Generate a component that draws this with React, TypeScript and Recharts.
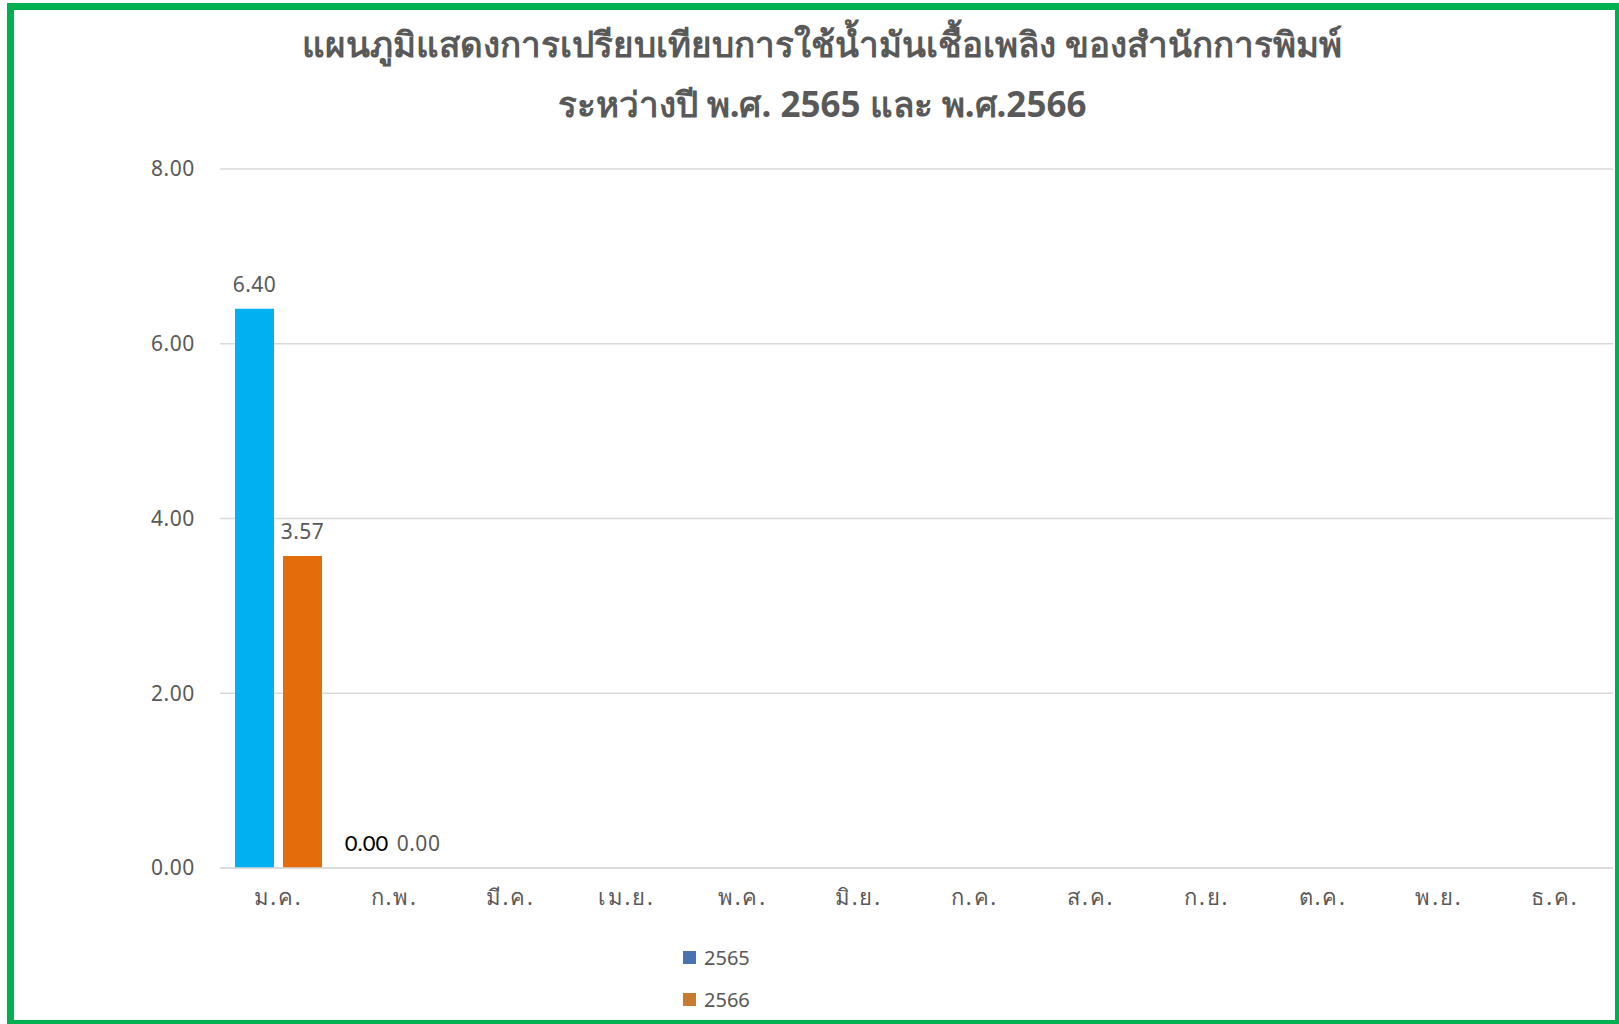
import React from 'react';
import { BarChart, Bar, XAxis, YAxis, CartesianGrid, LabelList, Legend } from 'recharts';

const months = ['ม.ค.', 'ก.พ.', 'มี.ค.', 'เม.ย.', 'พ.ค.', 'มิ.ย.', 'ก.ค.', 'ส.ค.', 'ก.ย.', 'ต.ค.', 'พ.ย.', 'ธ.ค.'];
const values2565: (number | null)[] = [6.4, 0.0, null, null, null, null, null, null, null, null, null, null];
const values2566: (number | null)[] = [3.57, 0.0, null, null, null, null, null, null, null, null, null, null];
const seriesNames = ['2565', '2566'];
const seriesKeys = ['y2565', 'y2566'];
const barColors = ['#00B0F0', '#E46C0A'];
const legendColors = ['#4A72B0', '#C87A30'];
const yTicks = [0, 2, 4, 6, 8];
const titleLines = ['แผนภูมิแสดงการเปรียบเทียบการใช้น้ำมันเชื้อเพลิง ของสำนักการพิมพ์', 'ระหว่างปี พ.ศ. 2565 และ พ.ศ.2566'];

const data = months.map((m, i) => ({ month: m, y2565: values2565[i], y2566: values2566[i] }));

const TEXT_GRAY = '#595959';
const THAI_FONT = "Tahoma, 'Noto Sans', 'DejaVu Sans', sans-serif";
const NUM_FONT = "'Noto Sans', 'Open Sans', sans-serif";

const makeLabel = (seriesIndex: number) => (props: any) => {
  const { x, y, width, value, index } = props;
  if (value === null || value === undefined) return null;
  const special = seriesIndex === 0 && index === 1;
  return (
    <text
      x={Number(x) + Number(width) / 2 - (special ? 4 : 0)}
      y={Number(y) - 17}
      textAnchor="middle"
      fill={special ? '#000000' : TEXT_GRAY}
      fontFamily={special ? "Lato, 'Open Sans', sans-serif" : NUM_FONT}
      fontWeight={400}
      fontSize={special ? 22 : 21}
      letterSpacing={special ? 0 : 0.5}
    >
      {Number(value).toFixed(2)}
    </text>
  );
};

const LegendContent = () => (
  <div style={{ fontFamily: NUM_FONT, fontSize: 20, color: TEXT_GRAY }}>
    {seriesNames.map((n, i) => (
      <div key={n} style={{ display: 'flex', alignItems: 'center', height: 30, marginBottom: 12 }}>
        <span style={{ display: 'inline-block', width: 13, height: 13, background: legendColors[i], marginRight: 8 }} />
        <span>{n}</span>
      </div>
    ))}
  </div>
);

const zeroMin = (value: any) => (value === 0 ? 0.01 : 0);

export default function App() {
  return (
    <div style={{ position: 'absolute', left: 0, top: 0, width: 1619, height: 1024, background: '#fff', overflow: 'hidden' }}>
      <div
        style={{
          position: 'absolute', left: 7, top: 3, width: 1615, height: 1024,
          border: '7px solid #00B050', boxSizing: 'border-box',
        }}
      />
      {titleLines.map((t, i) => (
        <div
          key={i}
          style={{
            position: 'absolute', left: 122, width: 1400, top: i === 0 ? 24 : 84, textAlign: 'center',
            fontFamily: THAI_FONT, fontWeight: 'bold', fontSize: 35, lineHeight: '40px', color: TEXT_GRAY,
            whiteSpace: 'nowrap',
          }}
        >
          {t}
        </div>
      ))}
      <div style={{ position: 'absolute', left: 0, top: 0 }}>
        <BarChart
          width={1619}
          height={1024}
          data={data}
          margin={{ top: 169, right: 6, bottom: 126, left: 0 }}
          barSize={39}
          barGap={9}
        >
          <CartesianGrid vertical={false} stroke="#D9D9D9" strokeWidth={1.5} />
          <XAxis
            dataKey="month"
            height={30}
            axisLine={{ stroke: '#D9D9D9', strokeWidth: 1.5 }}
            tickLine={false}
            tickSize={0}
            tickMargin={21}
            interval={0}
            tick={{ fill: TEXT_GRAY, fontSize: 22, fontFamily: THAI_FONT, letterSpacing: 1.8 }}
          />
          <YAxis
            width={220}
            domain={[0, 8]}
            ticks={yTicks}
            axisLine={false}
            tickLine={false}
            tickSize={0}
            tickMargin={25}
            tickFormatter={(v: number) => v.toFixed(2)}
            tick={{ fill: TEXT_GRAY, fontSize: 21, fontFamily: NUM_FONT, letterSpacing: 0.6 }}
          />
          <Legend
            layout="vertical"
            align="center"
            verticalAlign="middle"
            wrapperStyle={{ left: 683, top: 942, width: 150, height: 90 }}
            content={<LegendContent />}
          />
          {seriesKeys.map((k, i) => (
            <Bar key={k} dataKey={k} name={seriesNames[i]} fill={barColors[i]} minPointSize={zeroMin} isAnimationActive={false}>
              <LabelList dataKey={k} content={makeLabel(i)} />
            </Bar>
          ))}
        </BarChart>
      </div>
    </div>
  );
}
